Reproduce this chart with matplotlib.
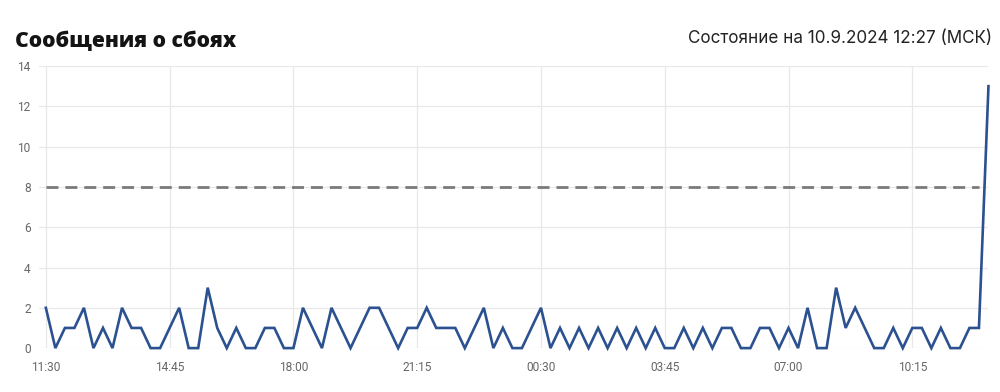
import matplotlib
matplotlib.use("Agg")
import matplotlib.pyplot as plt
import numpy as np
import pandas as pd

# Data: 15-minute counts starting 11:30
start_time = "2024-09-09 11:30"
interval_min = 15
values = [2, 0, 1, 1, 2, 0, 1, 0, 2, 1, 1, 0, 0, 1, 2, 0, 0, 3, 1, 0,
          1, 0, 0, 1, 1, 0, 0, 2, 1, 0, 2, 1, 0, 1, 2, 2, 1, 0, 1, 1,
          2, 1, 1, 1, 0, 1, 2, 0, 1, 0, 0, 1, 2, 0, 1, 0, 1, 0, 1, 0,
          1, 0, 1, 0, 1, 0, 0, 1, 0, 1, 0, 1, 1, 0, 0, 1, 1, 0, 1, 0,
          2, 0, 0, 3, 1, 2, 1, 0, 0, 1, 0, 1, 1, 0, 1, 0, 0, 1, 1, 13]
threshold = 8
tick_labels = ["11:30", "14:45", "18:00", "21:15", "00:30", "03:45", "07:00", "10:15"]
y_ticks = [0, 2, 4, 6, 8, 10, 12, 14]
title = "Сообщения о сбоях"
status = "Состояние на 10.9.2024 12:27 (МСК)"

times = pd.date_range(start_time, periods=len(values), freq=f"{interval_min}min")
x = np.arange(len(values))
labels_all = times.strftime("%H:%M")
tick_pos = [int(np.where(labels_all == t)[0][0]) for t in tick_labels]

plt.rcParams['lines.scale_dashes'] = False
fig = plt.figure(figsize=(10, 3.92), dpi=100)
ax = fig.add_axes([0.039, 0.112, 0.949, 0.7196])

ax.plot(x, values, color="#2c5190", linewidth=1.9, clip_on=False, zorder=3,
        solid_joinstyle="miter")
ax.plot([x[0], x[-2]], [threshold, threshold], color="#7a7a7a", linewidth=2.0,
        dashes=(8.6, 5.0), zorder=2)

ax.set_xlim(-0.72, len(values) - 1.05)
ax.set_ylim(0, 14)
ax.set_xticks(tick_pos)
ax.set_xticklabels(tick_labels)
ax.set_yticks(y_ticks)
ax.set_yticklabels([str(v) for v in y_ticks])

ax.grid(True, color="#e8e8e8", linewidth=0.9, zorder=0)
ax.set_axisbelow(True)
for s in ax.spines.values():
    s.set_visible(False)
ax.tick_params(axis="both", length=0, colors="#666666", labelsize=8.6)
ax.tick_params(axis="x", pad=9)
ax.tick_params(axis="y", pad=6)
for lbl in ax.get_xticklabels() + ax.get_yticklabels():
    lbl.set_fontfamily("Roboto")

fig.text(0.015, 1 - 47 / 392, title, fontsize=15.2, fontweight="heavy",
         family="Open Sans", color="#141414", ha="left", va="baseline")
fig.text(0.992, 1 - 43 / 392, status, fontsize=12.3, family="Inter",
         color="#222222", ha="right", va="baseline")

fig.savefig("out.png", dpi=100)
